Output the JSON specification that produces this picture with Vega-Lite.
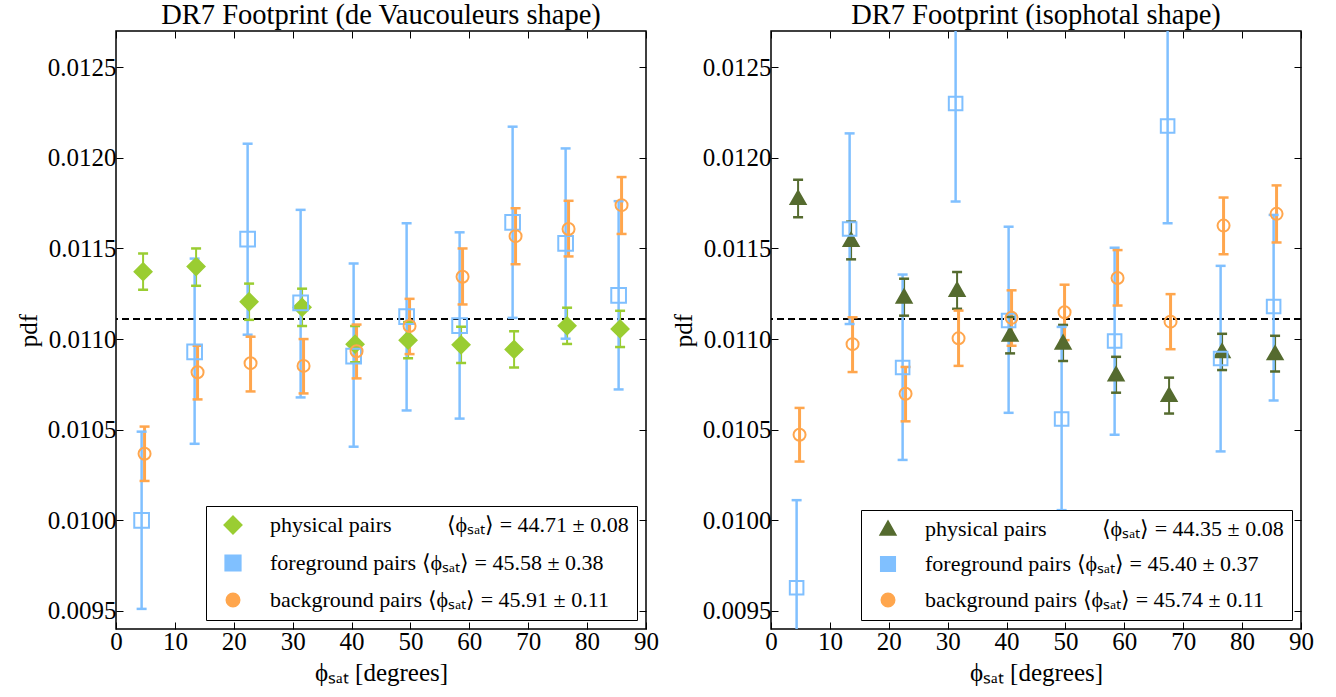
{
  "$schema": "https://vega.github.io/schema/vega-lite/v6.json",
  "background": "white",
  "padding": {"left": 15, "top": 0, "right": 5, "bottom": 5},
  "spacing": 10,
  "resolve": {"scale": {"color": "independent", "fill": "independent", "shape": "independent", "size": "independent", "strokeWidth": "independent"}, "legend": {"color": "independent"}},
  "config": {
    "font": "Liberation Serif",
    "style": {"guide-label": {"font": "Liberation Serif"}, "guide-title": {"font": "Liberation Serif"}},
    "view": {"stroke": "black", "strokeWidth": 1.5},
    "axis": {"grid": false, "domain": false, "ticks": true, "tickColor": "black", "tickSize": -7, "tickWidth": 1, "labelFlush": false,
             "labelFont": "Liberation Serif", "labelFontSize": 25, "labelColor": "black", "labelPadding": 7,
             "titleFont": "Liberation Serif", "titleFontSize": 25, "titleFontWeight": "normal", "titleColor": "black"},
    "title": {"font": "Liberation Serif", "fontSize": 28.5, "fontWeight": "normal", "color": "black", "offset": 1, "frame": "group"},
    "legend": {"orient": "bottom-right", "offset": 9, "strokeColor": "black", "fillColor": "white", "padding": 8,
               "labelFont": "Liberation Serif", "labelFontSize": 22, "labelColor": "black", "labelLimit": 600,
               "symbolSize": 256, "symbolStrokeWidth": 2.5, "rowPadding": 12, "labelOffset": 26, "symbolOffset": 8, "cornerRadius": 0}
  },
  "datasets": {
    "pts": [
      {"p":"L","s":"phys","x":4.6,"y":0.011372,"lo":0.011272,"hi":0.011472},
      {"p":"L","s":"phys","x":13.6,"y":0.011400,"lo":0.011294,"hi":0.011500},
      {"p":"L","s":"phys","x":22.6,"y":0.011206,"lo":0.011106,"hi":0.011306},
      {"p":"L","s":"phys","x":31.6,"y":0.011175,"lo":0.011072,"hi":0.011278},
      {"p":"L","s":"phys","x":40.6,"y":0.010972,"lo":0.010872,"hi":0.011072},
      {"p":"L","s":"phys","x":49.6,"y":0.010994,"lo":0.010894,"hi":0.011094},
      {"p":"L","s":"phys","x":58.6,"y":0.010968,"lo":0.010868,"hi":0.011068},
      {"p":"L","s":"phys","x":67.6,"y":0.010943,"lo":0.010843,"hi":0.011043},
      {"p":"L","s":"phys","x":76.6,"y":0.011073,"lo":0.010973,"hi":0.011173},
      {"p":"L","s":"phys","x":85.6,"y":0.011056,"lo":0.010956,"hi":0.011156},
      {"p":"L","s":"fg","x":4.35,"y":0.010000,"lo":0.009511,"hi":0.010489},
      {"p":"L","s":"fg","x":13.35,"y":0.010929,"lo":0.010422,"hi":0.011444},
      {"p":"L","s":"fg","x":22.35,"y":0.011552,"lo":0.011024,"hi":0.012078},
      {"p":"L","s":"fg","x":31.35,"y":0.011200,"lo":0.010678,"hi":0.011713},
      {"p":"L","s":"fg","x":40.35,"y":0.010906,"lo":0.010406,"hi":0.011417},
      {"p":"L","s":"fg","x":49.35,"y":0.011124,"lo":0.010606,"hi":0.011639},
      {"p":"L","s":"fg","x":58.35,"y":0.011074,"lo":0.010561,"hi":0.011589},
      {"p":"L","s":"fg","x":67.35,"y":0.011644,"lo":0.011117,"hi":0.012172},
      {"p":"L","s":"fg","x":76.35,"y":0.011528,"lo":0.011002,"hi":0.012052},
      {"p":"L","s":"fg","x":85.35,"y":0.011241,"lo":0.010722,"hi":0.011761},
      {"p":"L","s":"bg","x":4.85,"y":0.010367,"lo":0.010217,"hi":0.010517},
      {"p":"L","s":"bg","x":13.85,"y":0.010817,"lo":0.010667,"hi":0.010963},
      {"p":"L","s":"bg","x":22.85,"y":0.010867,"lo":0.010711,"hi":0.011013},
      {"p":"L","s":"bg","x":31.85,"y":0.010852,"lo":0.010700,"hi":0.011000},
      {"p":"L","s":"bg","x":40.85,"y":0.010933,"lo":0.010783,"hi":0.011080},
      {"p":"L","s":"bg","x":49.85,"y":0.011072,"lo":0.010917,"hi":0.011222},
      {"p":"L","s":"bg","x":58.85,"y":0.011344,"lo":0.011191,"hi":0.011500},
      {"p":"L","s":"bg","x":67.85,"y":0.011568,"lo":0.011413,"hi":0.011722},
      {"p":"L","s":"bg","x":76.85,"y":0.011607,"lo":0.011456,"hi":0.011763},
      {"p":"L","s":"bg","x":85.85,"y":0.011739,"lo":0.011580,"hi":0.011894},
      {"p":"R","s":"phys","x":4.6,"y":0.011776,"lo":0.011672,"hi":0.011879},
      {"p":"R","s":"phys","x":13.6,"y":0.011544,"lo":0.011440,"hi":0.011648},
      {"p":"R","s":"phys","x":22.6,"y":0.011232,"lo":0.011129,"hi":0.011333},
      {"p":"R","s":"phys","x":31.6,"y":0.011269,"lo":0.011167,"hi":0.011370},
      {"p":"R","s":"phys","x":40.6,"y":0.011022,"lo":0.010921,"hi":0.011122},
      {"p":"R","s":"phys","x":49.6,"y":0.010978,"lo":0.010879,"hi":0.011078},
      {"p":"R","s":"phys","x":58.6,"y":0.010803,"lo":0.010704,"hi":0.010902},
      {"p":"R","s":"phys","x":67.6,"y":0.010689,"lo":0.010589,"hi":0.010787},
      {"p":"R","s":"phys","x":76.6,"y":0.010930,"lo":0.010829,"hi":0.011029},
      {"p":"R","s":"phys","x":85.6,"y":0.010919,"lo":0.010821,"hi":0.011018},
      {"p":"R","s":"fg","x":4.35,"y":0.009628,"lo":0.009148,"hi":0.010111},
      {"p":"R","s":"fg","x":13.35,"y":0.011607,"lo":0.011083,"hi":0.012135},
      {"p":"R","s":"fg","x":22.35,"y":0.010843,"lo":0.010333,"hi":0.011356},
      {"p":"R","s":"fg","x":31.35,"y":0.012300,"lo":0.011759,"hi":0.012840},
      {"p":"R","s":"fg","x":40.35,"y":0.011102,"lo":0.010593,"hi":0.011620},
      {"p":"R","s":"fg","x":49.35,"y":0.010559,"lo":0.010056,"hi":0.011067},
      {"p":"R","s":"fg","x":58.35,"y":0.010989,"lo":0.010472,"hi":0.011504},
      {"p":"R","s":"fg","x":67.35,"y":0.012176,"lo":0.011639,"hi":0.012710},
      {"p":"R","s":"fg","x":76.35,"y":0.010893,"lo":0.010380,"hi":0.011404},
      {"p":"R","s":"fg","x":85.35,"y":0.011180,"lo":0.010661,"hi":0.011685},
      {"p":"R","s":"bg","x":4.85,"y":0.010472,"lo":0.010324,"hi":0.010620},
      {"p":"R","s":"bg","x":13.85,"y":0.010972,"lo":0.010818,"hi":0.011120},
      {"p":"R","s":"bg","x":22.85,"y":0.010698,"lo":0.010546,"hi":0.010846},
      {"p":"R","s":"bg","x":31.85,"y":0.011004,"lo":0.010852,"hi":0.011157},
      {"p":"R","s":"bg","x":40.85,"y":0.011117,"lo":0.010963,"hi":0.011269},
      {"p":"R","s":"bg","x":49.85,"y":0.011148,"lo":0.010994,"hi":0.011300},
      {"p":"R","s":"bg","x":58.85,"y":0.011337,"lo":0.011185,"hi":0.011491},
      {"p":"R","s":"bg","x":67.85,"y":0.011096,"lo":0.010944,"hi":0.011248},
      {"p":"R","s":"bg","x":76.85,"y":0.011626,"lo":0.011468,"hi":0.011781},
      {"p":"R","s":"bg","x":85.85,"y":0.011691,"lo":0.011533,"hi":0.011848}
    ]
  },
  "hconcat": [
    {
      "width": 530, "height": 598,
      "title": {"text": "DR7 Footprint (de Vaucouleurs shape)"},
      "data": {"name": "pts"},
      "transform": [{"filter": "datum.p == 'L'"}],
      "layer": [
        {"mark": {"type": "rule", "color": "black", "strokeWidth": 1.5, "strokeDash": [7, 4]},
         "encoding": {"y": {"datum": 0.0111111, "type": "quantitative",
           "axis": {"orient": "right", "labels": false, "title": null, "values": [0.0095, 0.01, 0.0105, 0.011, 0.0115, 0.012, 0.0125]}}}},
        {"mark": {"type": "rule", "clip": true},
         "encoding": {
           "x": {"field": "x", "type": "quantitative", "scale": {"domain": [0, 90], "nice": false, "zero": false},
                 "axis": {"orient": "top", "labels": false, "title": null, "values": [0,10,20,30,40,50,60,70,80,90]}},
           "y": {"field": "lo", "type": "quantitative", "scale": {"domain": [0.0094, 0.0127], "nice": false, "zero": false}, "axis": null},
           "y2": {"field": "hi"},
           "color": {"field": "s", "type": "nominal", "scale": {"domain": ["phys", "fg", "bg"], "range": ["#9acd32", "#80c0ff", "#ffa64d"]}},
           "strokeWidth": {"field": "s", "type": "nominal", "scale": {"domain": ["phys", "fg", "bg"], "range": [2, 3, 3]}, "legend": null}
         }},
        {"mark": {"type": "tick", "orient": "horizontal", "size": 10, "thickness": 2.5, "opacity": 1, "clip": true},
         "encoding": {
           "x": {"field": "x", "type": "quantitative", "axis": null},
           "y": {"field": "lo", "type": "quantitative", "axis": null},
           "color": {"field": "s", "type": "nominal"}}},
        {"mark": {"type": "tick", "orient": "horizontal", "size": 10, "thickness": 2.5, "opacity": 1, "clip": true},
         "encoding": {
           "x": {"field": "x", "type": "quantitative", "axis": null},
           "y": {"field": "hi", "type": "quantitative", "axis": null},
           "color": {"field": "s", "type": "nominal"}}},
        {"mark": {"type": "point", "opacity": 1, "strokeWidth": 2, "clip": true},
         "encoding": {
           "x": {"field": "x", "type": "quantitative",
                 "axis": {"title": "ϕₛₐₜ [degrees]", "values": [0,10,20,30,40,50,60,70,80,90], "format": "d", "titlePadding": 6, "labelFlush": false, "labelFont": "Liberation Serif", "titleFont": "Liberation Serif"}},
           "y": {"field": "y", "type": "quantitative",
                 "axis": {"title": "pdf", "values": [0.0095, 0.01, 0.0105, 0.011, 0.0115, 0.012, 0.0125], "format": ".4f", "titlePadding": 6, "labelFont": "Liberation Serif", "titleFont": "Liberation Serif"}},
           "color": {"field": "s", "type": "nominal",
             "legend": {"title": null, "labelFont": "Liberation Serif",
               "labelExpr": "datum.value == 'phys' ? 'physical pairs\u2003\u2003\u2002⟨ϕₛₐₜ⟩ = 44.71 ± 0.08' : datum.value == 'fg' ? 'foreground pairs ⟨ϕₛₐₜ⟩ = 45.58 ± 0.38' : 'background pairs ⟨ϕₛₐₜ⟩ = 45.91 ± 0.11'"}},
           "shape": {"field": "s", "type": "nominal", "scale": {"domain": ["phys", "fg", "bg"], "range": ["M0,-1L1,0L0,1L-1,0Z", "square", "circle"]}, "legend": null},
           "fill": {"field": "s", "type": "nominal", "scale": {"domain": ["phys", "fg", "bg"], "range": ["#9acd32", "transparent", "transparent"]}, "legend": null},
           "size": {"field": "s", "type": "nominal", "scale": {"domain": ["phys", "fg", "bg"], "range": [289, 144, 196]}, "legend": null}
         }}
      ],
      "resolve": {"axis": {"x": "independent", "y": "independent"}}
    },
    {
      "width": 530, "height": 598,
      "title": {"text": "DR7 Footprint (isophotal shape)"},
      "data": {"name": "pts"},
      "transform": [{"filter": "datum.p == 'R'"}],
      "layer": [
        {"mark": {"type": "rule", "color": "black", "strokeWidth": 1.5, "strokeDash": [7, 4]},
         "encoding": {"y": {"datum": 0.0111111, "type": "quantitative",
           "axis": {"orient": "right", "labels": false, "title": null, "values": [0.0095, 0.01, 0.0105, 0.011, 0.0115, 0.012, 0.0125]}}}},
        {"mark": {"type": "rule", "clip": true},
         "encoding": {
           "x": {"field": "x", "type": "quantitative", "scale": {"domain": [0, 90], "nice": false, "zero": false},
                 "axis": {"orient": "top", "labels": false, "title": null, "values": [0,10,20,30,40,50,60,70,80,90]}},
           "y": {"field": "lo", "type": "quantitative", "scale": {"domain": [0.0094, 0.0127], "nice": false, "zero": false}, "axis": null},
           "y2": {"field": "hi"},
           "color": {"field": "s", "type": "nominal", "scale": {"domain": ["phys", "fg", "bg"], "range": ["#556b2f", "#80c0ff", "#ffa64d"]}},
           "strokeWidth": {"field": "s", "type": "nominal", "scale": {"domain": ["phys", "fg", "bg"], "range": [2, 3, 3]}, "legend": null}
         }},
        {"mark": {"type": "tick", "orient": "horizontal", "size": 10, "thickness": 2.5, "opacity": 1, "clip": true},
         "encoding": {
           "x": {"field": "x", "type": "quantitative", "axis": null},
           "y": {"field": "lo", "type": "quantitative", "axis": null},
           "color": {"field": "s", "type": "nominal"}}},
        {"mark": {"type": "tick", "orient": "horizontal", "size": 10, "thickness": 2.5, "opacity": 1, "clip": true},
         "encoding": {
           "x": {"field": "x", "type": "quantitative", "axis": null},
           "y": {"field": "hi", "type": "quantitative", "axis": null},
           "color": {"field": "s", "type": "nominal"}}},
        {"mark": {"type": "point", "opacity": 1, "strokeWidth": 2, "clip": true},
         "encoding": {
           "x": {"field": "x", "type": "quantitative",
                 "axis": {"title": "ϕₛₐₜ [degrees]", "values": [0,10,20,30,40,50,60,70,80,90], "format": "d", "titlePadding": 6, "labelFlush": false, "labelFont": "Liberation Serif", "titleFont": "Liberation Serif"}},
           "y": {"field": "y", "type": "quantitative",
                 "axis": {"title": "pdf", "values": [0.0095, 0.01, 0.0105, 0.011, 0.0115, 0.012, 0.0125], "format": ".4f", "titlePadding": 6, "labelFont": "Liberation Serif", "titleFont": "Liberation Serif"}},
           "color": {"field": "s", "type": "nominal",
             "legend": {"title": null, "labelFont": "Liberation Serif",
               "labelExpr": "datum.value == 'phys' ? 'physical pairs\u2003\u2003\u2002⟨ϕₛₐₜ⟩ = 44.35 ± 0.08' : datum.value == 'fg' ? 'foreground pairs ⟨ϕₛₐₜ⟩ = 45.40 ± 0.37' : 'background pairs ⟨ϕₛₐₜ⟩ = 45.74 ± 0.11'"}},
           "shape": {"field": "s", "type": "nominal", "scale": {"domain": ["phys", "fg", "bg"], "range": ["M0,-1L1,0.75L-1,0.75Z", "square", "circle"]}, "legend": null},
           "fill": {"field": "s", "type": "nominal", "scale": {"domain": ["phys", "fg", "bg"], "range": ["#556b2f", "transparent", "transparent"]}, "legend": null},
           "size": {"field": "s", "type": "nominal", "scale": {"domain": ["phys", "fg", "bg"], "range": [225, 144, 196]}, "legend": null}
         }}
      ],
      "resolve": {"axis": {"x": "independent", "y": "independent"}}
    }
  ]
}
